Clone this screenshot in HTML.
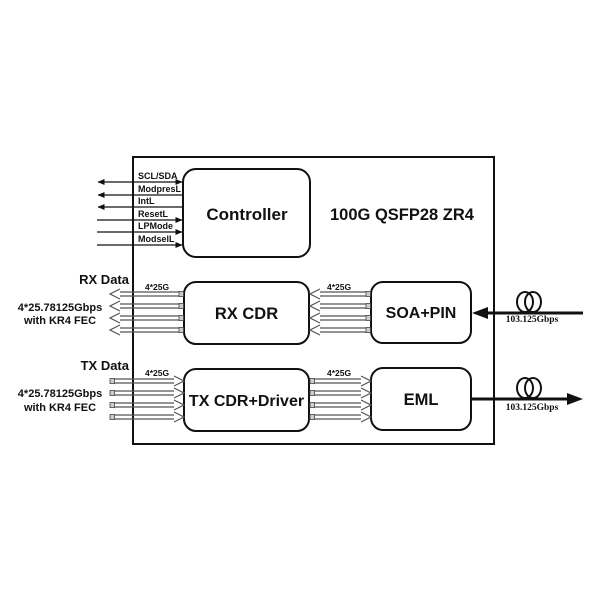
<!DOCTYPE html>
<html><head><meta charset="utf-8"><style>
html,body{margin:0;padding:0;background:#fff;}
svg{display:block;}
text{font-family:"Liberation Sans",sans-serif;font-weight:bold;fill:#111;}
.serif{font-family:"Liberation Serif",serif;}
</style></head><body>
<svg width="600" height="600" viewBox="0 0 600 600" xmlns="http://www.w3.org/2000/svg">
<defs>
<marker id="al" markerWidth="7" markerHeight="6" refX="0.5" refY="3" orient="auto" markerUnits="userSpaceOnUse"><path d="M7,0 L0,3 L7,6 Z" fill="#111"/></marker>
<marker id="ar" markerWidth="7" markerHeight="6" refX="6.5" refY="3" orient="auto" markerUnits="userSpaceOnUse"><path d="M0,0 L7,3 L0,6 Z" fill="#111"/></marker>
</defs>
<!-- outer box -->
<rect x="133" y="157" width="361" height="287" fill="none" stroke="#111" stroke-width="2"/>
<!-- blocks -->
<rect x="183" y="169" width="127" height="88" rx="13" fill="#fff" stroke="#111" stroke-width="2"/>
<rect x="184" y="282" width="125" height="62" rx="12" fill="#fff" stroke="#111" stroke-width="2"/>
<rect x="371" y="282" width="100" height="61" rx="12" fill="#fff" stroke="#111" stroke-width="2"/>
<rect x="184" y="369" width="125" height="62" rx="12" fill="#fff" stroke="#111" stroke-width="2"/>
<rect x="371" y="368" width="100" height="62" rx="12" fill="#fff" stroke="#111" stroke-width="2"/>
<text x="247" y="220" font-size="17" text-anchor="middle">Controller</text>
<text x="246.5" y="319" font-size="16.5" text-anchor="middle">RX CDR</text>
<text x="421" y="318" font-size="16" text-anchor="middle">SOA+PIN</text>
<text x="246.5" y="406" font-size="16" text-anchor="middle">TX CDR+Driver</text>
<text x="421" y="405" font-size="16.5" text-anchor="middle">EML</text>
<text x="402" y="220" font-size="16.5" text-anchor="middle">100G QSFP28 ZR4</text>
<!-- control signals -->
<g stroke="#111" stroke-width="1.3">
<line x1="98" y1="182" x2="182" y2="182" marker-start="url(#al)" marker-end="url(#ar)"/>
<line x1="98" y1="195" x2="183" y2="195" marker-start="url(#al)"/>
<line x1="98" y1="207" x2="183" y2="207" marker-start="url(#al)"/>
<line x1="97" y1="220" x2="182" y2="220" marker-end="url(#ar)"/>
<line x1="97" y1="232" x2="182" y2="232" marker-end="url(#ar)"/>
<line x1="97" y1="245" x2="182" y2="245" marker-end="url(#ar)"/>
</g>
<g font-size="9">
<text x="138" y="179">SCL/SDA</text>
<text x="138" y="192">ModpresL</text>
<text x="138" y="204">IntL</text>
<text x="138" y="217">ResetL</text>
<text x="138" y="229">LPMode</text>
<text x="138" y="242">ModselL</text>
</g>
<!-- hollow arrows -->
<g fill="none" stroke="#555" stroke-width="1.2">
<path d="M120,292 H181 M120,296 H181 M120,289 L110,294 L120,299"/>
<path d="M120,304 H181 M120,308 H181 M120,301 L110,306 L120,311"/>
<path d="M120,316 H181 M120,320 H181 M120,313 L110,318 L120,323"/>
<path d="M120,328 H181 M120,332 H181 M120,325 L110,330 L120,335"/>
<path d="M320,292 H368 M320,296 H368 M320,289 L310,294 L320,299"/>
<path d="M320,304 H368 M320,308 H368 M320,301 L310,306 L320,311"/>
<path d="M320,316 H368 M320,320 H368 M320,313 L310,318 L320,323"/>
<path d="M320,328 H368 M320,332 H368 M320,325 L310,330 L320,335"/>
<path d="M113,379 H174 M113,383 H174 M174,376 L184,381 L174,386"/>
<path d="M113,391 H174 M113,395 H174 M174,388 L184,393 L174,398"/>
<path d="M113,403 H174 M113,407 H174 M174,400 L184,405 L174,410"/>
<path d="M113,415 H174 M113,419 H174 M174,412 L184,417 L174,422"/>
<path d="M312,379 H361 M312,383 H361 M361,376 L371,381 L361,386"/>
<path d="M312,391 H361 M312,395 H361 M361,388 L371,393 L361,398"/>
<path d="M312,403 H361 M312,407 H361 M361,400 L371,405 L361,410"/>
<path d="M312,415 H361 M312,419 H361 M361,412 L371,417 L361,422"/>
</g>
<!-- stripe terminals -->
<g fill="#ccc" stroke="#444" stroke-width="0.8">
<rect x="179" y="291.5" width="4.5" height="5"/><rect x="179" y="303.5" width="4.5" height="5"/><rect x="179" y="315.5" width="4.5" height="5"/><rect x="179" y="327.5" width="4.5" height="5"/>
<rect x="366" y="291.5" width="4.5" height="5"/><rect x="366" y="303.5" width="4.5" height="5"/><rect x="366" y="315.5" width="4.5" height="5"/><rect x="366" y="327.5" width="4.5" height="5"/>
<rect x="110" y="378.5" width="4.5" height="5"/><rect x="110" y="390.5" width="4.5" height="5"/><rect x="110" y="402.5" width="4.5" height="5"/><rect x="110" y="414.5" width="4.5" height="5"/>
<rect x="310" y="378.5" width="4.5" height="5"/><rect x="310" y="390.5" width="4.5" height="5"/><rect x="310" y="402.5" width="4.5" height="5"/><rect x="310" y="414.5" width="4.5" height="5"/>
</g>
<g font-size="8.5">
<text x="145" y="290">4*25G</text>
<text x="327" y="290">4*25G</text>
<text x="145" y="376">4*25G</text>
<text x="327" y="376">4*25G</text>
</g>
<!-- left labels -->
<text x="129" y="284" font-size="13" text-anchor="end">RX Data</text>
<text x="60" y="311" font-size="11" text-anchor="middle">4*25.78125Gbps</text>
<text x="60" y="324" font-size="11" text-anchor="middle">with KR4 FEC</text>
<text x="129" y="370" font-size="13" text-anchor="end">TX Data</text>
<text x="60" y="397" font-size="11" text-anchor="middle">4*25.78125Gbps</text>
<text x="60" y="411" font-size="11" text-anchor="middle">with KR4 FEC</text>
<!-- fibers -->
<g stroke="#111" fill="none">
<line x1="484" y1="313" x2="583" y2="313" stroke-width="3"/>
<ellipse cx="525" cy="302" rx="8" ry="10" stroke-width="2"/>
<ellipse cx="533" cy="302" rx="8" ry="10" stroke-width="2"/>
<line x1="471" y1="399" x2="570" y2="399" stroke-width="3"/>
<ellipse cx="525" cy="388" rx="8" ry="10" stroke-width="2"/>
<ellipse cx="533" cy="388" rx="8" ry="10" stroke-width="2"/>
</g>
<path d="M472,313 L488,307 L488,319 Z" fill="#111"/>
<path d="M583,399 L567,393 L567,405 Z" fill="#111"/>
<text class="serif" x="532" y="322" font-size="9.5" text-anchor="middle">103.125Gbps</text>
<text class="serif" x="532" y="410" font-size="9.5" text-anchor="middle">103.125Gbps</text>
</svg>
</body></html>
